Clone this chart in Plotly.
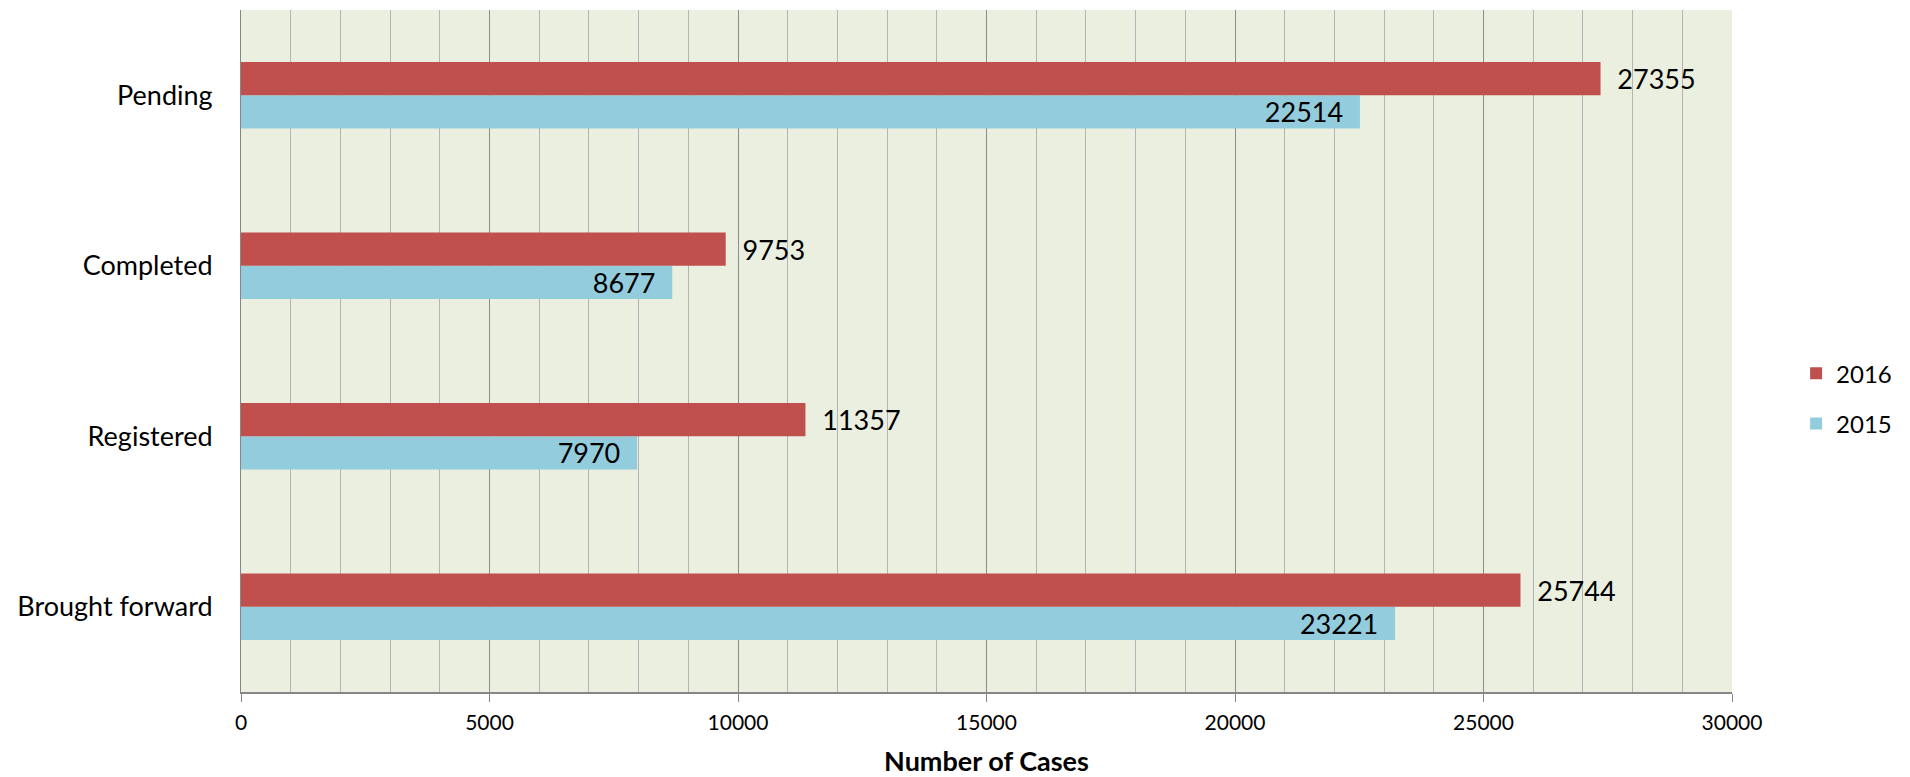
import plotly.graph_objects as go

categories = ["Brought forward", "Registered", "Completed", "Pending"]
cases_2015 = [23221, 7970, 8677, 22514]
cases_2016 = [25744, 11357, 9753, 27355]
x_ticks = [0, 5000, 10000, 15000, 20000, 25000, 30000]

font_family = "Lato, 'Liberation Sans', sans-serif"
pad = "\u00a0\u00a0"

fig = go.Figure()

fig.add_trace(go.Bar(
    name="2015",
    legendgroup="2015",
    legendrank=2,
    y=categories,
    x=cases_2015,
    orientation="h",
    marker=dict(color="#93CDDD", line=dict(width=0)),
    text=[str(v) for v in cases_2015],
    texttemplate="%{text}" + pad,
    textposition="inside",
    insidetextanchor="end",
    constraintext="none",
    textfont=dict(family=font_family, size=27, color="#000000"),
))

fig.add_trace(go.Bar(
    name="2016",
    legendgroup="2016",
    legendrank=1,
    y=categories,
    x=cases_2016,
    orientation="h",
    marker=dict(color="#C0504D", line=dict(width=0)),
    text=[str(v) for v in cases_2016],
    texttemplate=pad + "%{text}",
    textposition="outside",
    constraintext="none",
    cliponaxis=False,
    textfont=dict(family=font_family, size=27, color="#000000"),
))

fig.update_layout(
    width=1910,
    height=777,
    margin=dict(l=241, r=178, t=10, b=85),
    paper_bgcolor="#FFFFFF",
    plot_bgcolor="#EBEFDF",
    barmode="group",
    bargap=0.61,
    bargroupgap=0,
    font=dict(family=font_family, color="#000000"),
    showlegend=True,
    legend=dict(
        traceorder="grouped",
        x=1.043, xanchor="left", xref="paper",
        y=0.43, yanchor="middle",
        font=dict(family=font_family, size=24, color="#000000"),
        itemwidth=30,
        tracegroupgap=16,
        bgcolor="rgba(0,0,0,0)",
    ),
    xaxis=dict(
        range=[0, 30000],
        tickvals=x_ticks,
        ticktext=[str(v) for v in x_ticks],
        tickfont=dict(family=font_family, size=21, color="#000000"),
        ticks="outside",
        ticklen=8,
        tickcolor="#868686",
        ticklabelstandoff=3,
        showline=True,
        linecolor="#868686",
        linewidth=2,
        showgrid=True,
        gridcolor="#8C8C8C",
        gridwidth=1,
        minor=dict(dtick=1000, showgrid=True, gridcolor="#B4B4B4", gridwidth=1, ticks=""),
        zeroline=False,
        automargin=False,
        title=dict(text="<b>Number of Cases</b>", font=dict(family=font_family, size=27, color="#000000"), standoff=22),
        fixedrange=True,
    ),
    yaxis=dict(
        categoryorder="array",
        categoryarray=categories,
        tickfont=dict(family=font_family, size=27, color="#000000"),
        ticks="outside",
        ticklen=22,
        tickcolor="rgba(0,0,0,0)",
        showline=True,
        linecolor="#868686",
        linewidth=1,
        showgrid=False,
        zeroline=False,
        automargin=False,
        fixedrange=True,
    ),
)

fig.write_html("out.html")
